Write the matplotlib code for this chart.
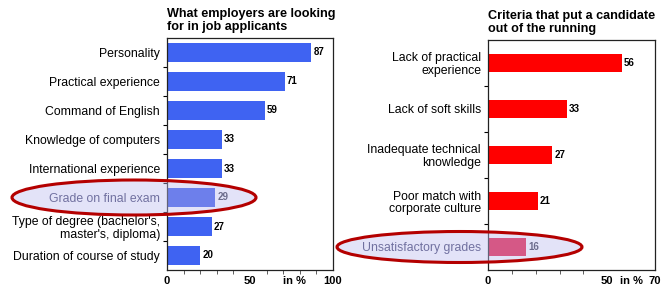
import matplotlib
matplotlib.use("Agg")
import matplotlib.pyplot as plt
from matplotlib.patches import Ellipse
from matplotlib.ticker import MultipleLocator

plt.rcParams['font.family'] = ['Liberation Sans', 'DejaVu Sans']

left_title = "What employers are looking\nfor in job applicants"
left_cats = ["Personality", "Practical experience", "Command of English",
             "Knowledge of computers", "International experience",
             "Grade on final exam", "Type of degree (bachelor's,\nmaster's, diploma)",
             "Duration of course of study"]
left_vals = [87, 71, 59, 33, 33, 29, 27, 20]
left_highlight = "Grade on final exam"

right_title = "Criteria that put a candidate\nout of the running"
right_cats = ["Lack of practical\nexperience", "Lack of soft skills",
              "Inadequate technical\nknowledge", "Poor match with\ncorporate culture",
              "Unsatisfactory grades"]
right_vals = [56, 33, 27, 21, 16]
right_highlight = "Unsatisfactory grades"

left_xticks = [0, 50, 77, 100]
left_xlabels = ["0", "50", "in %", "100"]
right_xticks = [0, 50, 60, 70]
right_xlabels = ["0", "50", "in %", "70"]

W, H = 661, 290
fig = plt.figure(figsize=(W / 100, H / 100), dpi=100)

def panel(rect, cats, vals, color, hcolor, hl, xmax, xticks, xlabels, title, bh):
    ax = fig.add_axes(rect)
    n = len(cats)
    ys = list(range(n))
    cols = [hcolor if c == hl else color for c in cats]
    ax.barh(ys, vals, height=bh, color=cols, zorder=2)
    ax.set_ylim(n - 0.5, -0.5)
    ax.set_xlim(0, xmax)
    ax.set_yticks(ys)
    ax.set_yticklabels(cats, fontsize=8.8, linespacing=1.1)
    for lab, c in zip(ax.get_yticklabels(), cats):
        if c == hl:
            lab.set_color('#3a3a66')
    ax.tick_params(axis='y', which='major', length=0, pad=5)
    ax.set_yticks([i + 0.5 for i in range(n - 1)], minor=True)
    ax.tick_params(axis='y', which='minor', length=3, direction='out', width=0.8)
    ax.set_xticks(xticks)
    ax.set_xticklabels(xlabels, fontsize=8, fontweight='bold')
    ax.tick_params(axis='x', which='major', length=0, pad=4)
    ax.xaxis.set_minor_locator(MultipleLocator(10))
    ax.tick_params(axis='x', which='minor', length=3, direction='out', width=0.6, color='#444444')
    for s in ax.spines.values():
        s.set_linewidth(0.9)
        s.set_color('#222222')
    for y, v, c in zip(ys, vals, cats):
        ax.text(v + xmax * 0.012, y, str(v), va='center', ha='left', fontsize=7,
                fontweight='bold', color='#333344' if c == hl else 'black', zorder=3)
    pos = ax.get_position()
    fig.text(pos.x0, pos.y1 + 0.018, title, ha='left', va='bottom', fontsize=9.1,
             fontweight='bold', linespacing=1.05)
    return ax

axL = panel([167 / W, 1 - 270 / H, 166 / W, 232 / H], left_cats, left_vals,
            '#3F63F2', '#3553E8', left_highlight, 100, left_xticks, left_xlabels,
            left_title, 0.65)
axR = panel([488 / W, 1 - 270 / H, 167 / W, 230 / H], right_cats, right_vals,
            '#FF0000', '#E8103A', right_highlight, 70, right_xticks, right_xlabels,
            right_title, 0.39)

fig.canvas.draw()
def ellipse(ax, idx, x0, x1, h):
    yd = ax.transData.transform((0, idx))[1]
    yf = yd / fig.bbox.height
    e = Ellipse(((x0 + x1) / 2 / W, yf), (x1 - x0) / W, h / H, transform=fig.transFigure,
                facecolor=(0.74, 0.74, 0.94, 0.42), edgecolor='#B40000', linewidth=2.2,
                zorder=10)
    fig.add_artist(e)

ellipse(axL, left_cats.index(left_highlight), 12, 256, 35)
ellipse(axR, right_cats.index(right_highlight), 337, 582, 31)

fig.savefig("out.png", dpi=100, facecolor='white')
